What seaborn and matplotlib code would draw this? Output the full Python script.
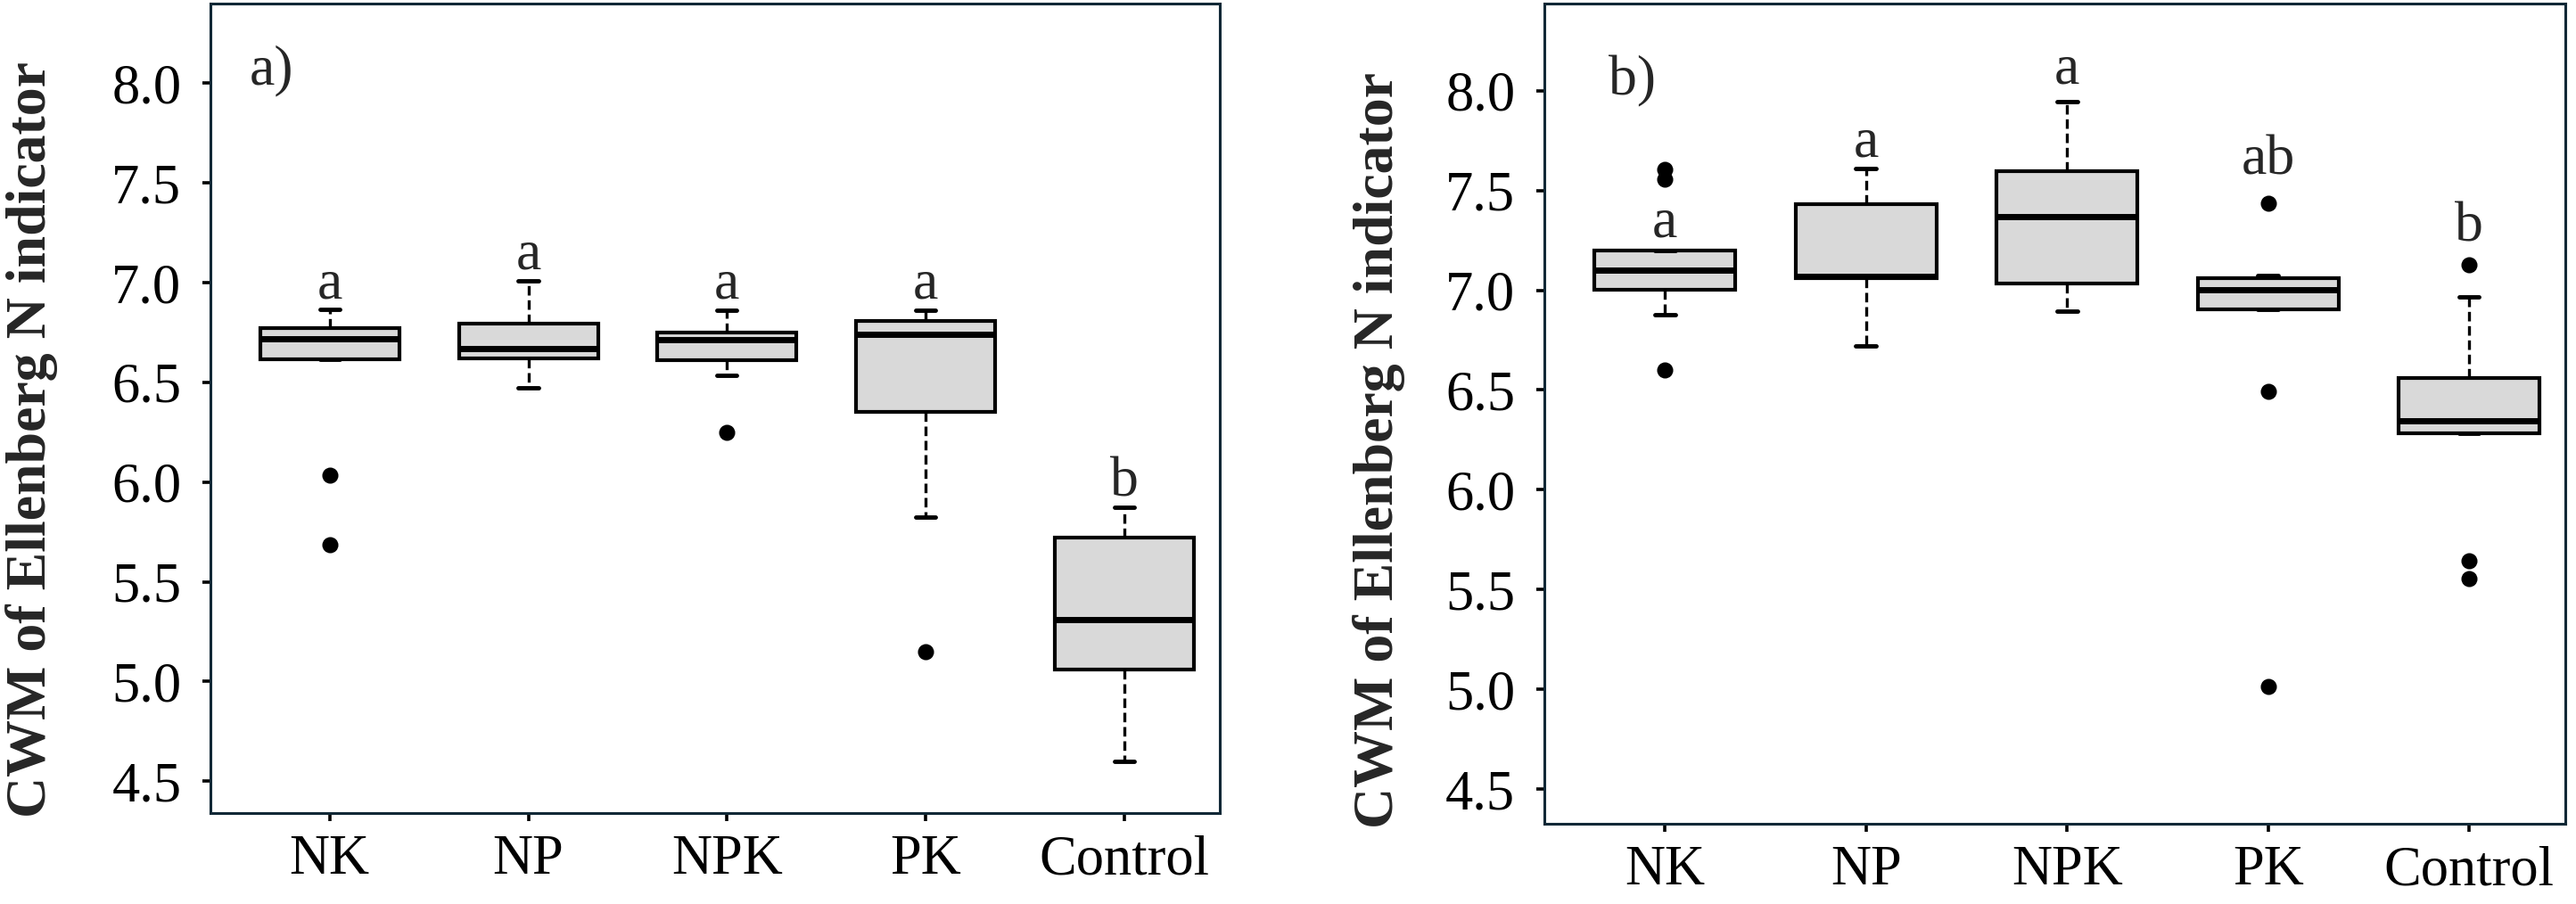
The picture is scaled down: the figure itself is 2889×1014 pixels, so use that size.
import numpy as np
import pandas as pd
import seaborn as sns
import matplotlib.pyplot as plt

# --- data (box summary statistics) ---
treatments = ["NK", "NP", "NPK", "PK", "Control"]

# panel a)
a_low = [6.615, 6.473, 6.537, 5.824, 4.598]
a_q1 = [6.615, 6.621, 6.612, 6.351, 5.059]
a_med = [6.719, 6.670, 6.716, 6.742, 5.308]
a_q3 = [6.771, 6.795, 6.748, 6.806, 5.722]
a_high = [6.867, 7.009, 6.861, 6.861, 5.873]
a_out_trt = ["NK", "NK", "NPK", "PK"]
a_out_val = [6.035, 5.688, 6.250, 5.149]
a_letters = ["a", "a", "a", "a", "b"]
a_letter_y = [6.92, 7.07, 6.92, 6.92, 5.93]

# panel b)
b_low = [6.877, 6.720, 6.894, 6.906, 6.283]
b_q1 = [7.001, 7.059, 7.033, 6.906, 6.283]
b_med = [7.100, 7.071, 7.369, 7.001, 6.347]
b_q3 = [7.198, 7.430, 7.598, 7.059, 6.561]
b_high = [7.198, 7.609, 7.945, 7.076, 6.966]
b_out_trt = ["NK", "NK", "NK", "PK", "PK", "PK", "Control", "Control", "Control"]
b_out_val = [7.606, 7.557, 6.599, 7.438, 6.495, 5.015, 7.129, 5.643, 5.554]
b_letters = ["a", "a", "a", "ab", "b"]
b_letter_y = [7.267, 7.670, 8.038, 7.583, 7.244]

yticks = [4.5, 5.0, 5.5, 6.0, 6.5, 7.0, 7.5, 8.0]

# --- styling ---
sns.set_theme(style="ticks")
plt.rcParams["font.family"] = ["Liberation Serif", "DejaVu Serif"]

fig = plt.figure(figsize=(28.89, 10.14), dpi=100)
ax_a = fig.add_axes([0.0817, 0.1006, 0.3918, 0.8955])
ax_b = fig.add_axes([0.5995, 0.0888, 0.3965, 0.9073])

frame_col = "#102836"


def draw_panel(ax, low, q1, med, q3, high, out_trt, out_val, letters, letter_y,
               tag, tag_xy, ylim, label_xy):
    outl = pd.DataFrame({"Treatment": out_trt, "CWM": out_val})
    sns.stripplot(data=outl, x="Treatment", y="CWM", order=treatments,
                  jitter=False, color="black", size=13, linewidth=0,
                  ax=ax, zorder=4)
    stats = [dict(whislo=lo, q1=a, med=m, q3=b, whishi=hi, fliers=[])
             for lo, a, m, b, hi in zip(low, q1, med, q3, high)]
    ax.bxp(stats, positions=range(len(treatments)), widths=0.7,
           patch_artist=True, showfliers=False, manage_ticks=False,
           capwidths=0.1,
           boxprops=dict(facecolor="#D9D9D9", edgecolor="black", linewidth=3.0),
           medianprops=dict(color="black", linewidth=5.0),
           whiskerprops=dict(color="black", linewidth=2.4, linestyle=(0, (3.2, 1.6))),
           capprops=dict(color="black", linewidth=3.5))
    for i, (lt, ly) in enumerate(zip(letters, letter_y)):
        ax.text(i, ly, lt, ha="center", va="baseline", fontsize=46)
    ax.text(tag_xy[0], tag_xy[1], tag, transform=ax.transAxes,
            ha="left", va="baseline", fontsize=46)

    ax.set_xlim(-0.6, 4.48)
    ax.set_ylim(*ylim)
    ax.set_xticks(range(len(treatments)))
    ax.set_xticklabels(treatments)
    ax.set_yticks(yticks)
    ax.set_yticklabels([f"{v:.1f}" for v in yticks])
    ax.set_xlabel("")
    ax.set_ylabel("CWM of Ellenberg N indicator", fontsize=46, fontweight="bold")
    ax.yaxis.set_label_coords(*label_xy)
    ax.tick_params(axis="both", direction="out", length=6.5, width=2.6,
                   color="black", labelsize=45, labelcolor="black")
    ax.tick_params(axis="y", pad=17)
    ax.tick_params(axis="x", pad=11)
    for sp in ax.spines.values():
        sp.set_visible(True)
        sp.set_color(frame_col)
        sp.set_linewidth(2.2)
    ax.grid(False)


draw_panel(ax_a, a_low, a_q1, a_med, a_q3, a_high, a_out_trt, a_out_val,
           a_letters, a_letter_y, "a)", (0.039, 0.900), (4.34, 8.40),
           (-0.151, 0.461))
draw_panel(ax_b, b_low, b_q1, b_med, b_q3, b_high, b_out_trt, b_out_val,
           b_letters, b_letter_y, "b)", (0.063, 0.889), (4.326, 8.437),
           (-0.136, 0.455))

fig.savefig("out.png", dpi=100)
plt.close(fig)
